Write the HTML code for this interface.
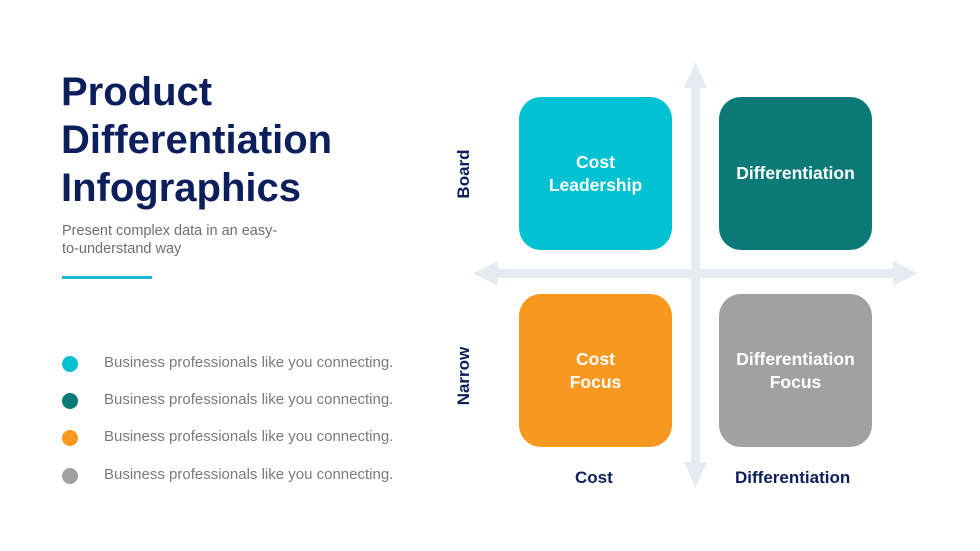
<!DOCTYPE html>
<html><head><meta charset="utf-8"><style>
body{margin:0;width:980px;height:551px;background:#fff;position:relative;overflow:hidden;font-family:"Liberation Sans",sans-serif}
.a{position:absolute}
h1{position:absolute;left:61px;top:68px;margin:0;font-size:40px;line-height:48px;color:#0c1f5c;font-weight:bold;letter-spacing:0px}
.sub{left:62px;top:222px;font-size:14.5px;line-height:18px;color:#6f6f6f}
.dot{width:16px;height:16px;border-radius:50%;left:62px}
.bt{left:104px;font-size:15px;color:#7a7a7a}
.box{width:153px;height:153px;border-radius:22px;color:#fff;font-weight:bold;font-size:17.5px;line-height:23px;display:flex;align-items:center;justify-content:center;text-align:center}
.lbl{color:#0c1f5c;font-weight:bold;font-size:17px}
</style></head><body>
<h1>Product<br>Differentiation<br>Infographics</h1>
<div class="a sub">Present complex data in an easy-<br>to-understand way</div>
<div class="a" style="left:62px;top:276px;width:90px;height:3px;background:#1ab8d0"></div>
<div class="a dot" style="top:356px;background:#00c2d3"></div>
<div class="a dot" style="top:393px;background:#0b7a77"></div>
<div class="a dot" style="top:430px;background:#f7981f"></div>
<div class="a dot" style="top:468px;background:#a0a2a2"></div>
<div class="a bt" style="top:354px">Business professionals like you connecting.</div>
<div class="a bt" style="top:391px">Business professionals like you connecting.</div>
<div class="a bt" style="top:428px">Business professionals like you connecting.</div>
<div class="a bt" style="top:466px">Business professionals like you connecting.</div>
<svg class="a" style="left:0;top:0" width="980" height="551">
<g fill="#e4ebf1">
<rect x="691" y="85" width="9" height="380"/>
<polygon points="684,88 695.5,62 707,88"/>
<polygon points="684,462 695.5,488 707,462"/>
<rect x="495" y="269" width="400" height="9"/>
<polygon points="498,261 473,273.5 498,286"/>
<polygon points="893,261 918,273.5 893,286"/>
</g></svg>
<div class="a box" style="left:519px;top:97px;background:#00c2d3">Cost<br>Leadership</div>
<div class="a box" style="left:719px;top:97px;background:#0b7a77">Differentiation</div>
<div class="a box" style="left:519px;top:294px;background:#f7981f">Cost<br>Focus</div>
<div class="a box" style="left:719px;top:294px;background:#a0a2a2">Differentiation<br>Focus</div>
<div class="a lbl" style="left:575px;top:468px">Cost</div>
<div class="a lbl" style="left:735px;top:468px">Differentiation</div>
<div class="a lbl" style="left:438px;top:164px;transform:rotate(-90deg);transform-origin:center;width:52px;text-align:center">Board</div>
<div class="a lbl" style="left:432px;top:366px;transform:rotate(-90deg);transform-origin:center;width:64px;text-align:center">Narrow</div>
</body></html>
